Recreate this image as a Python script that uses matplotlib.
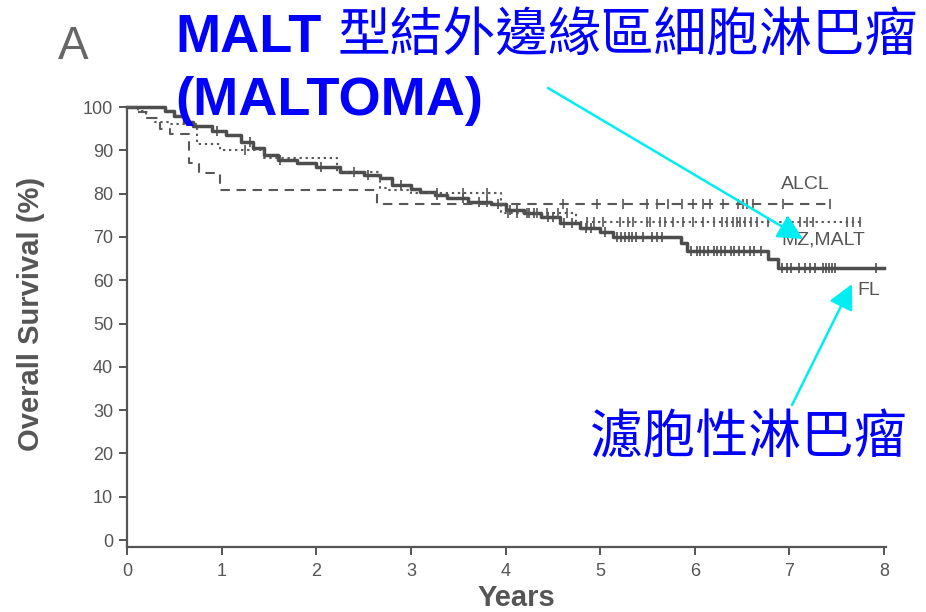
import numpy as np
import matplotlib
matplotlib.use("Agg")
import matplotlib.pyplot as plt

plt.rcParams['font.family'] = ['Liberation Sans', 'DejaVu Sans']

# ---- Kaplan-Meier steps (years, % surviving after each step) ----
fl_t = [0.0, 0.40, 0.50, 0.60, 0.70, 0.90, 1.05, 1.20, 1.33, 1.45, 1.60, 1.80, 2.00,
        2.25, 2.50, 2.67, 2.80, 3.00, 3.10, 3.25, 3.38, 3.60, 3.85, 4.00, 4.20, 4.37,
        4.58, 4.79, 5.00, 5.14, 5.85, 5.92, 6.77, 6.88]
fl_s = [100, 99, 98, 96.5, 95.5, 94.5, 93.5, 92, 90.5, 89, 87.8, 87, 86.2,
        85, 84.3, 83.6, 82, 81, 80.4, 79.6, 79, 78, 77.6, 76.2, 75.5, 74.6,
        73.2, 72, 71.1, 70, 68.5, 66.7, 65, 62.8]
fl_end = 8.0
fl_cens = [0.95, 1.30, 1.62, 2.05, 2.55, 2.90, 3.28, 3.55, 3.72, 3.80, 3.92, 4.05, 4.12,
           4.25, 4.30, 4.45, 4.50, 4.62, 4.70, 4.85, 4.90, 5.05, 5.18, 5.22, 5.26, 5.30,
           5.34, 5.38, 5.45, 5.55, 5.60, 5.65, 5.96, 6.02, 6.06, 6.10, 6.14, 6.20, 6.24,
           6.28, 6.32, 6.38, 6.42, 6.47, 6.52, 6.58, 6.63, 6.70, 6.92, 6.97, 7.02, 7.10,
           7.17, 7.22, 7.27, 7.36, 7.39, 7.42, 7.45, 7.48, 7.92]

alcl_t = [0.0, 0.12, 0.22, 0.35, 0.45, 0.65, 0.76, 0.98, 2.64]
alcl_s = [100, 98.9, 97.5, 95, 93.7, 87, 84.8, 80.8, 77.5]
alcl_end = 7.43
alcl_cens = [4.61, 4.97, 5.24, 5.50, 5.60, 5.72, 5.87, 5.98, 6.09, 6.16, 6.30,
             6.46, 6.51, 6.55, 6.62, 6.93, 7.43]

mz_t = [0.0, 0.12, 0.20, 0.30, 0.45, 0.74, 0.98, 1.45, 2.22, 2.67, 2.75, 3.00, 3.95, 4.75]
mz_s = [100, 99, 97.5, 96.5, 96, 91.5, 90, 88.2, 85, 81.3, 80.8, 80.2, 75.5, 73.4]
mz_end = 7.75
mz_cens = [1.25, 2.40, 3.28, 3.55, 3.80, 4.03, 4.12, 4.23, 4.33, 4.44, 4.55, 4.65,
           4.86, 4.93, 5.03, 5.21, 5.29, 5.35, 5.50, 5.53, 5.63, 5.69, 5.77, 5.88,
           5.98, 6.09, 6.20, 6.29, 6.34, 6.40, 6.45, 6.48, 6.53, 6.59, 6.66, 6.77,
           6.98, 7.11, 7.19, 7.25, 7.61, 7.67, 7.75]

x_ticks = np.arange(0, 9, 1)
y_ticks = np.arange(0, 101, 10)

ink = '#555555'
cyan = '#00EEF2'
blue = '#0000FF'


def km_curve(ax, t, s, t_end, cens, **kw):
    tt = np.append(t, t_end)
    ss = np.append(s, s[-1])
    ax.step(tt, ss, where='post', clip_on=False, **kw)
    idx = np.searchsorted(t, cens, side='right') - 1
    ax.plot(cens, np.asarray(s)[idx], ls='none', marker='|', ms=7.5, mew=1.2,
            color=kw.get('color'), clip_on=False)


fig = plt.figure(figsize=(9.26, 6.12), dpi=100)
ax = fig.add_axes([127 / 926, 1 - 546.5 / 612, 757 / 926, 439.5 / 612])

km_curve(ax, fl_t, fl_s, fl_end, fl_cens, color='#4d4d4d', lw=2.5)
km_curve(ax, alcl_t, alcl_s, alcl_end, alcl_cens, color='#585858', lw=1.5,
         dashes=(4.5, 3.2))
km_curve(ax, mz_t, mz_s, mz_end, mz_cens, color='#585858', lw=1.5,
         dashes=(1.1, 1.8))

ax.set_xlim(0, 8)
ax.set_ylim(-1.5, 100)
ax.set_xticks(x_ticks)
ax.set_yticks(y_ticks)
for side in ('top', 'right'):
    ax.spines[side].set_visible(False)
for side in ('left', 'bottom'):
    ax.spines[side].set_color(ink)
    ax.spines[side].set_linewidth(1.6)
ax.spines['bottom'].set_bounds(0, 8.02)
ax.tick_params(colors=ink, labelsize=13, length=6, width=1.4, direction='out')
ax.tick_params(axis='x', pad=6)
ax.tick_params(axis='y', pad=4)

ax.set_ylabel('Overall Survival (%)', fontsize=21, fontweight='bold', color=ink)
ax.yaxis.set_label_coords(-0.108, 0.53)
ax.set_xlabel('Years', fontsize=21, fontweight='bold', color=ink)
ax.xaxis.set_label_coords(0.515, -0.085)

# curve names at the right end
ax.text(6.91, 82, 'ALCL', fontsize=14, color=ink, va='center')
ax.text(6.92, 69.3, 'MZ,MALT', fontsize=14, color=ink, va='center')
ax.text(7.72, 57.7, 'FL', fontsize=14, color=ink, va='center')


# panel letter and headings (figure pixel coordinates)
def fx(px):
    return px / 926


def fy(py):
    return 1 - py / 612


fig.text(fx(58), fy(59), 'A', fontsize=33, color='#666666')
fig.text(fx(175), fy(52), 'MALT', fontsize=39, fontweight='bold', color=blue)
fig.text(fx(338), fy(52), '型結外邊緣區細胞淋巴瘤', fontsize=38, color=blue,
         family=['Noto Sans CJK TC', 'DejaVu Sans'])
fig.text(fx(175), fy(115), '(MALTOMA)', fontsize=39, fontweight='bold', color=blue)
fig.text(fx(590), fy(454), '濾胞性淋巴瘤', fontsize=38, color=blue,
         family=['Noto Sans CJK TC', 'DejaVu Sans'])

arrow = dict(arrowstyle='-|>,head_length=0.95,head_width=0.48', color=cyan,
             lw=1.8, mutation_scale=16, shrinkA=0, shrinkB=0)
ax.annotate('', xy=(fx(803), fy(239)), xycoords='figure fraction',
            xytext=(fx(548), fy(88)), textcoords='figure fraction',
            arrowprops=arrow, annotation_clip=False)
ax.annotate('', xy=(fx(852), fy(284)), xycoords='figure fraction',
            xytext=(fx(792), fy(405)), textcoords='figure fraction',
            arrowprops=arrow, annotation_clip=False)

fig.savefig('out.png', dpi=100, facecolor='white')
